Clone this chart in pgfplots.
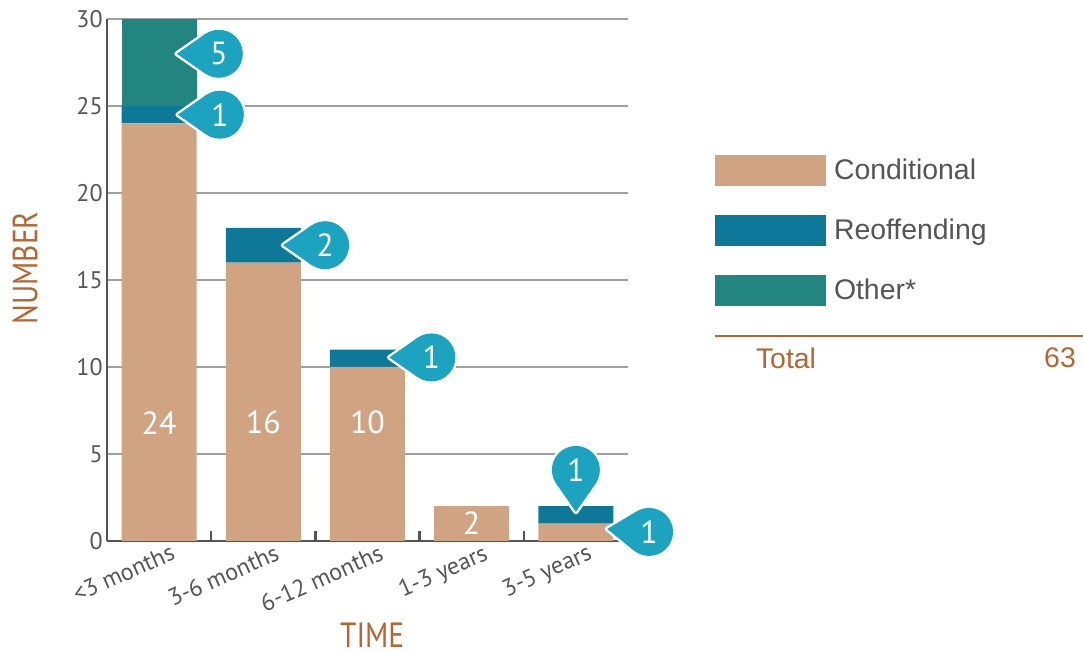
\documentclass[border=0pt]{standalone}
\usepackage{fontspec}
\setmainfont{PT Sans}
\newfontfamily\legfont{Liberation Sans}
\newfontfamily\labfont[FakeStretch=0.84]{PT Sans}
\usepackage{pgfplots}
\pgfplotsset{compat=1.18}
\definecolor{cond}{HTML}{D0A383}
\definecolor{reoff}{HTML}{0E7898}
\definecolor{other}{HTML}{22857F}
\definecolor{bubble}{HTML}{1BA3BF}
\definecolor{brownt}{HTML}{B5652F}
\definecolor{axisgray}{HTML}{555555}
\definecolor{gridgray}{HTML}{A0A0A0}
\definecolor{ticktext}{HTML}{555555}
% #1 tip coordinate name, #2 direction angle, #3 text
\newcommand{\callout}[3]{%
  \draw[white, line width=2.4pt] ([shift={(#2:21pt)}]#1) circle (12pt);
  \draw[white, line width=2.4pt, line join=round] (#1) -- ([shift={(#2:21pt)},shift={(#2+235:12pt)}]#1) -- ([shift={(#2:21pt)},shift={(#2+125:12pt)}]#1) -- cycle;
  \fill[bubble] ([shift={(#2:21pt)}]#1) circle (12pt);
  \fill[bubble] (#1) -- ([shift={(#2:21pt)},shift={(#2+235:12pt)}]#1) -- ([shift={(#2:21pt)},shift={(#2+125:12pt)}]#1) -- cycle;
  \node[text=white, font=\fontsize{16}{18}\selectfont, inner sep=0pt] at ([shift={(#2:21pt)}]#1) {#3};
}
\pgfplotsset{mylegend/.style={legend image code/.code={\path[draw=none,##1] (0pt,-7.75pt) rectangle (55.5pt,7.75pt);}}}
\begin{document}
\begin{tikzpicture}
\useasboundingbox (-53.5pt,-55.5pt) rectangle (488pt,270.5pt);
\begin{axis}[
  scale only axis, width=260.5pt, height=261pt,
  ybar stacked, bar width=37.5pt,
  xmin=-0.5, xmax=4.5, ymin=0, ymax=30,
  axis lines=left, axis line style={-, draw=axisgray, line width=1.4pt},
  ytick={0,5,...,30}, ymajorgrids, grid style={gridgray, line width=0.6pt},
  xtick={0,1,2,3,4},
  xticklabels={{<3 months},{3-6 months},{6-12 months},{1-3 years},{3-5 years}},
  x tick label style={rotate=24, anchor=north east, inner sep=0pt, xshift=4.5pt, yshift=-3pt},
  y tick label style={inner sep=2pt},
  minor xtick={0.5,1.5,2.5,3.5},
  major tick length=0pt, minor tick length=5pt, tick align=inside,
  minor tick style={draw=axisgray, line width=1.2pt},
  tick label style={font=\fontsize{12}{14}\selectfont, text=ticktext},
  /pgf/number format/assume math mode=true,
  xlabel={TIME}, ylabel={NUMBER},
  xlabel style={at={(axis description cs:0.509,-0.18)}, anchor=center, inner sep=0pt, font=\labfont\fontsize{17.5}{19}\selectfont, text=brownt},
  ylabel style={at={(axis description cs:-0.157,0.523)}, anchor=center, inner sep=0pt, font=\labfont\fontsize{17.5}{19}\selectfont, text=brownt},
  legend style={at={(1.167,0.7395)}, anchor=north west, draw=none, fill=none, inner sep=0pt, outer sep=0pt,
    row sep=14.5pt, column sep=4pt, nodes={inner sep=0pt, anchor=west},
    font=\legfont\fontsize{14.2}{16}\selectfont, text=ticktext},
  legend cell align=left,
]
\addplot[fill=cond, draw=none, mylegend] coordinates {(0,24) (1,16) (2,10) (3,2) (4,1)};
\addplot[fill=reoff, draw=none, mylegend] coordinates {(0,1) (1,2) (2,1) (3,0) (4,1)};
\addplot[fill=other, draw=none, mylegend] coordinates {(0,5) (1,0) (2,0) (3,0) (4,0)};
\legend{Conditional, Reoffending, Other*}
\coordinate (n1) at (axis cs:0,6.8);
\coordinate (n2) at (axis cs:1,6.8);
\coordinate (n3) at (axis cs:2,6.8);
\coordinate (n4) at (axis cs:3,1.05);
\coordinate (t1) at (axis cs:0.17,28.0);
\coordinate (t2) at (axis cs:0.18,24.5);
\coordinate (t3) at (axis cs:1.19,17.0);
\coordinate (t4) at (axis cs:2.21,10.55);
\coordinate (t5) at (axis cs:4.0,1.67);
\coordinate (t6) at (axis cs:4.3,0.69);
\end{axis}
\foreach \n/\v in {n1/24,n2/16,n3/10,n4/2}
  \node[text=white, font=\fontsize{16}{18}\selectfont] at (\n) {\v};
\callout{t1}{0}{5}
\callout{t2}{0}{1}
\callout{t3}{0}{2}
\callout{t4}{0}{1}
\callout{t5}{90}{1}
\callout{t6}{-4}{1}
\draw[brownt, line width=0.6pt] (304pt,102.5pt) -- (488pt,102.5pt);
\node[text=brownt, font=\legfont\fontsize{14.2}{16}\selectfont] at (339.5pt,91.5pt) {Total};
\node[text=brownt, font=\legfont\fontsize{14.2}{16}\selectfont] at (476.5pt,91.5pt) {63};
\end{tikzpicture}
\end{document}
